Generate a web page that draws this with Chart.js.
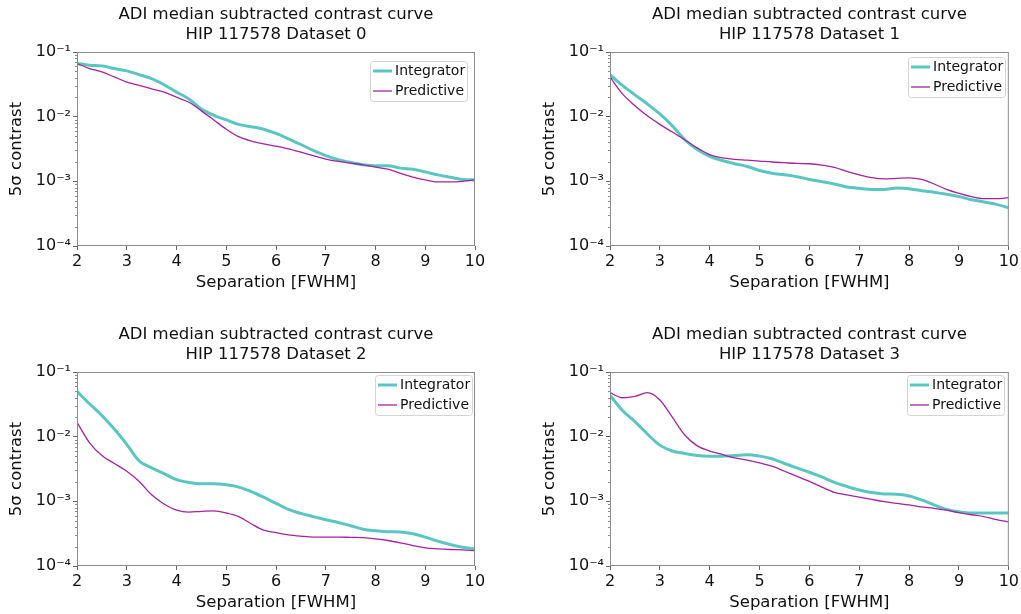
<!DOCTYPE html>
<html>
<head>
<meta charset="utf-8">
<script src="https://cdn.jsdelivr.net/npm/chart.js"></script>
<style>
  html, body { margin: 0; padding: 0; background: #fff; overflow: hidden; width: 1021px; height: 614px; }
  canvas { position: absolute; }
</style>
</head>
<body>
<canvas id="c0" width="510" height="296" style="left:0px;top:0px"></canvas>
<canvas id="c1" width="488" height="296" style="left:533px;top:0px"></canvas>
<canvas id="c2" width="510" height="296" style="left:0px;top:320px"></canvas>
<canvas id="c3" width="488" height="296" style="left:533px;top:320px"></canvas>
<script>
// separation in FWHM, shared by all curves
const sep = [2, 2.25, 2.5, 2.75, 3, 3.25, 3.5, 3.75, 4, 4.25, 4.5, 4.75, 5, 5.25, 5.5, 5.75,
             6, 6.25, 6.5, 6.75, 7, 7.25, 7.5, 7.75, 8, 8.25, 8.5, 8.75, 9, 9.25, 9.5, 9.75, 10];

// Dataset 0
const int0 = [0.0664, 0.0625, 0.061, 0.0555, 0.051, 0.0447, 0.0386, 0.0311, 0.024, 0.0188, 0.0131, 0.0105,
              0.0089, 0.0076, 0.0070, 0.0064, 0.0055, 0.00455, 0.00371, 0.0030, 0.00249, 0.00216, 0.00196,
              0.0018, 0.00174, 0.00174, 0.0016, 0.00154, 0.0014, 0.00126, 0.00116, 0.00107, 0.00105];
const pred0 = [0.0664, 0.0555, 0.0492, 0.0411, 0.0343, 0.0304, 0.027, 0.024, 0.020, 0.0167, 0.0123, 0.0089,
               0.0064, 0.0049, 0.0042, 0.0038, 0.00349, 0.00317, 0.00282, 0.00249, 0.00221, 0.00203, 0.00191,
               0.0018, 0.00166, 0.00154, 0.00133, 0.00116, 0.00105, 0.00098, 0.00098, 0.0010, 0.00105];
// Dataset 1
const int1 = [0.0447, 0.0304, 0.0217, 0.0157, 0.011, 0.0072, 0.0044, 0.0031, 0.00243, 0.0021, 0.00187, 0.0017,
              0.00147, 0.00133, 0.00126, 0.00118, 0.00107, 0.00099, 0.00091, 0.00082, 0.00078, 0.00075, 0.00075,
              0.00079, 0.00077, 0.000714, 0.00068, 0.00063, 0.00058, 0.00052, 0.00048, 0.00044, 0.00039];
const pred1 = [0.0411, 0.0225, 0.0148, 0.0103, 0.0076, 0.00578, 0.0044, 0.00329, 0.00259, 0.0023, 0.00219, 0.00213,
               0.00206, 0.00199, 0.00194, 0.00189, 0.00187, 0.00178, 0.00164, 0.00142, 0.00126, 0.00114, 0.00109,
               0.00111, 0.00113, 0.00107, 0.00091, 0.00075, 0.00065, 0.00058, 0.00054, 0.00054, 0.00056];
// Dataset 2
const int2 = [0.0503, 0.0323, 0.0212, 0.0131, 0.0076, 0.0042, 0.0033, 0.00268, 0.00216, 0.00196, 0.00187, 0.00187,
              0.0018, 0.00166, 0.00142, 0.00116, 0.00093, 0.00075, 0.00065, 0.00058, 0.00052, 0.00047, 0.00042,
              0.00037, 0.00035, 0.00034, 0.000335, 0.000315, 0.00028, 0.000242, 0.000215, 0.000195, 0.000184];
const pred2 = [0.0167, 0.0081, 0.0051, 0.00385, 0.00292, 0.00203, 0.00126, 0.00091, 0.00073, 0.00068, 0.0007, 0.00071,
               0.00066, 0.00058, 0.00045, 0.00036, 0.000327, 0.000304, 0.00029, 0.00028, 0.00028, 0.00028, 0.000277,
               0.000274, 0.000263, 0.000248, 0.000228, 0.000207, 0.00019, 0.000184, 0.00018, 0.000178, 0.000173];
// Dataset 3
const int3 = [0.0436, 0.0254, 0.0171, 0.011, 0.0074, 0.006, 0.0055, 0.0051, 0.005, 0.005, 0.0051, 0.00525,
              0.005, 0.00455, 0.00385, 0.00329, 0.00282, 0.00238, 0.00196, 0.0017, 0.0015, 0.00137, 0.0013,
              0.00129, 0.00121, 0.00105, 0.00088, 0.00075, 0.00069, 0.00066, 0.00066, 0.00066, 0.00066];
const pred3 = [0.048, 0.040, 0.042, 0.048, 0.037, 0.020, 0.0106, 0.0072, 0.006, 0.0053, 0.0047, 0.00434,
               0.00394, 0.00349, 0.00292, 0.00243, 0.00203, 0.00166, 0.00138, 0.00126, 0.00116, 0.00107, 0.00099,
               0.00093, 0.00088, 0.00082, 0.00078, 0.00073, 0.00067, 0.00062, 0.00058, 0.00052, 0.00048];

const xTickValues = [2, 3, 4, 5, 6, 7, 8, 9, 10];
const yTickValues = [1e-4, 1e-3, 1e-2, 1e-1];
const yTickLabels = ['10⁻⁴', '10⁻³', '10⁻²', '10⁻¹'];
const seriesNames = ['Integrator', 'Predictive'];
const mainTitle = 'ADI median subtracted contrast curve';
const subTitles = ['HIP 117578 Dataset 0', 'HIP 117578 Dataset 1', 'HIP 117578 Dataset 2', 'HIP 117578 Dataset 3'];

const TEAL = '#5ac6c1';
const PURPLE = '#a3249f';

Chart.defaults.font.family = '"DejaVu Sans", sans-serif';
Chart.defaults.color = '#111';

// two line title centred over the plot area
const titlePlugin = {
    id: 'twoLineTitle',
    afterDraw(chart, args, opts) {
        const { ctx, chartArea } = chart;
        const cx = (chartArea.left + chartArea.right) / 2;
        ctx.save();
        ctx.fillStyle = '#111';
        ctx.font = '16.5px "DejaVu Sans"';
        ctx.textAlign = 'center';
        ctx.textBaseline = 'middle';
        ctx.fillText(opts.lines[0], cx, chartArea.top - 37);
        ctx.fillText(opts.lines[1], cx, chartArea.top - 17);
        ctx.restore();
    }
};

// axes box plus minor log ticks
const framePlugin = {
    id: 'frame',
    afterDatasetsDraw(chart) {
        const { ctx, chartArea: a } = chart;
        const y = chart.scales.y;
        ctx.save();
        ctx.strokeStyle = '#8c8c8c';
        ctx.lineWidth = 1;
        ctx.strokeRect(a.left + 0.5, a.top + 0.5, a.right - a.left - 1, a.bottom - a.top - 1);
        ctx.beginPath();
        for (let n = -4; n < -1; n++) {
            for (let k = 2; k < 10; k++) {
                const py = Math.round(y.getPixelForValue(k * Math.pow(10, n))) + 0.5;
                ctx.moveTo(a.left - 2, py);
                ctx.lineTo(a.left, py);
            }
        }
        ctx.stroke();
        ctx.restore();
    }
};

// legend in the upper right corner of the axes
const legendPlugin = {
    id: 'boxLegend',
    afterDraw(chart, args, opts) {
        const { ctx, chartArea: a } = chart;
        const w = 97, h = 40;
        const x0 = Math.round(a.right - opts.dx - w), y0 = Math.round(a.top + opts.dy);
        ctx.save();
        ctx.fillStyle = 'rgba(255,255,255,0.8)';
        ctx.strokeStyle = '#d4d4d4';
        ctx.lineWidth = 1;
        ctx.beginPath();
        ctx.roundRect(x0 + 0.5, y0 + 0.5, w, h, 3);
        ctx.fill();
        ctx.stroke();
        ctx.font = '14px "DejaVu Sans"';
        ctx.textBaseline = 'middle';
        chart.data.datasets.forEach((ds, i) => {
            const yy = y0 + 10 + i * 20;
            ctx.strokeStyle = ds.borderColor;
            ctx.lineWidth = ds.borderWidth;
            ctx.beginPath();
            ctx.moveTo(x0 + 3, yy);
            ctx.lineTo(x0 + 22, yy);
            ctx.stroke();
            ctx.fillStyle = '#111';
            ctx.fillText(ds.label, x0 + 25, yy);
        });
        ctx.restore();
    }
};

function points(values) {
    return sep.map((x, i) => ({ x: x, y: values[i] }));
}

function makechart(canvasId, integ, pred, subTitle, padRight, legendPos) {
    const ctx = document.getElementById(canvasId).getContext('2d');
    return new Chart(ctx, {
        type: 'line',
        data: {
            datasets: [
                {
                    label: seriesNames[0],
                    data: points(integ),
                    borderColor: TEAL,
                    borderWidth: 3,
                    pointRadius: 0,
                    cubicInterpolationMode: 'monotone',
                    fill: false,
                    order: 2,
                },
                {
                    label: seriesNames[1],
                    data: points(pred),
                    borderColor: PURPLE,
                    borderWidth: 1.3,
                    pointRadius: 0,
                    cubicInterpolationMode: 'monotone',
                    fill: false,
                    order: 1,
                },
            ],
        },
        options: {
            responsive: false,
            animation: false,
            events: [],
            layout: {
                padding: { left: 0, top: 52, right: padRight, bottom: 0 }
            },
            plugins: {
                legend: { display: false },
                tooltip: { enabled: false },
                twoLineTitle: { lines: [mainTitle, subTitle] },
                boxLegend: legendPos,
            },
            scales: {
                x: {
                    type: 'linear',
                    min: 2,
                    max: 10,
                    afterBuildTicks: s => { s.ticks = xTickValues.map(v => ({ value: v })); },
                    afterFit: s => { s.height = 50; },
                    ticks: {
                        font: { size: 16 },
                        color: '#111',
                        padding: 2,
                        maxRotation: 0,
                    },
                    grid: {
                        drawOnChartArea: false,
                        tickLength: 4,
                        color: '#666',
                    },
                    border: { display: false },
                    title: {
                        display: true,
                        text: 'Separation [FWHM]',
                        font: { size: 16.5 },
                        color: '#111',
                        padding: { top: 0, bottom: 3 },
                    },
                },
                y: {
                    type: 'logarithmic',
                    min: 1e-4,
                    max: 1e-1,
                    afterBuildTicks: s => { s.ticks = yTickValues.map(v => ({ value: v })); },
                    afterFit: s => { s.width = 77; },
                    ticks: {
                        font: { size: 16 },
                        color: '#111',
                        padding: 2,
                        callback: (v, i) => yTickLabels[i],
                    },
                    grid: {
                        drawOnChartArea: false,
                        tickLength: 4,
                        color: '#666',
                    },
                    border: { display: false },
                    title: {
                        display: true,
                        text: '5σ contrast',
                        font: { size: 16.5 },
                        color: '#111',
                        padding: { top: 7, bottom: 0 },
                    },
                },
            },
        },
        plugins: [framePlugin, titlePlugin, legendPlugin],
    });
}

makechart('c0', int0, pred0, subTitles[0], 35, { dx: 8, dy: 9 });
makechart('c1', int1, pred1, subTitles[1], 12, { dx: 4, dy: 5 });
makechart('c2', int2, pred2, subTitles[2], 35, { dx: 3, dy: 3 });
makechart('c3', int3, pred3, subTitles[3], 12, { dx: 5, dy: 3 });
</script>
</body>
</html>
